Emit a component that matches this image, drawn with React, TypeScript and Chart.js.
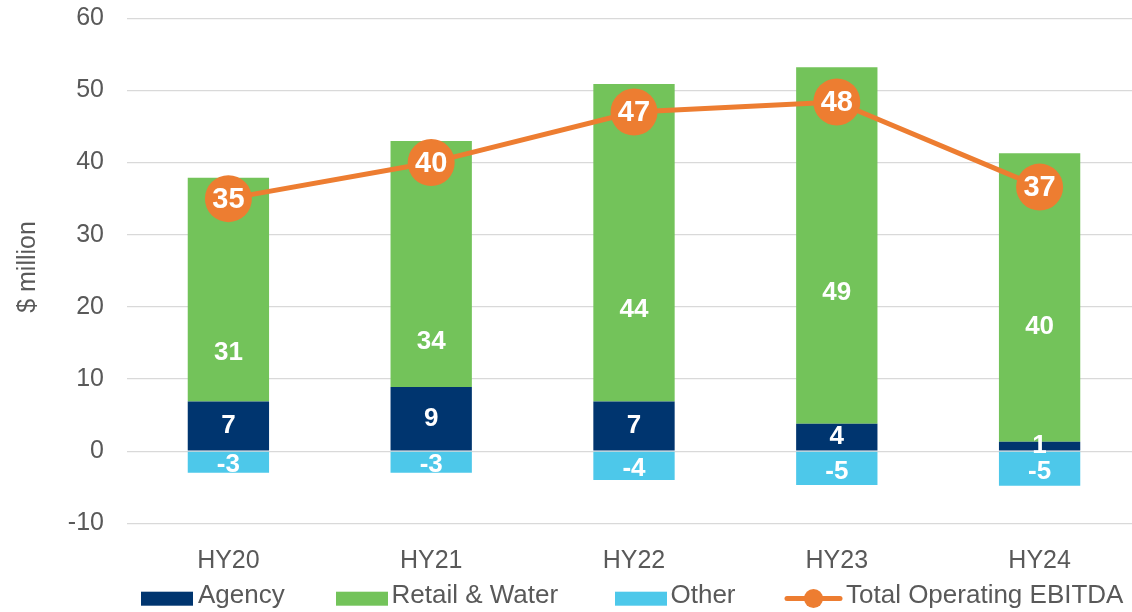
import React, { useEffect, useRef } from "react";
import { Chart, registerables } from "chart.js";

Chart.register(...registerables);

const categories = ["HY20", "HY21", "HY22", "HY23", "HY24"];
const agency = [6.9, 8.9, 6.9, 3.8, 1.3];
const retailWater = [31.0, 34.1, 44.0, 49.4, 40.0];
const other = [-3.0, -3.0, -4.0, -4.7, -4.8];
const totalEbitda = [35.0, 40.0, 47.0, 48.4, 36.6];
const yMin = -10;
const yMax = 60;
const yStep = 10;
const yTitle = "$ million";
const seriesNames = ["Agency", "Retail & Water", "Other", "Total Operating EBITDA"];

const COLORS = {
  agency: "#00356F",
  retail: "#73C35A",
  other: "#4DC8EA",
  total: "#ED7D31",
  text: "#595959",
  grid: "#D9D9D9",
};
const FONT = "'Liberation Sans', Arial, Helvetica, sans-serif";
const CANVAS_W = 1141;
const CANVAS_H = 612;

const labelsPlugin = {
  id: "valueLabels",
  afterDatasetsDraw(chart: any) {
    const ctx = chart.ctx;
    const yScale = chart.scales.y;
    ctx.save();
    ctx.fillStyle = "#FFFFFF";
    ctx.textAlign = "center";
    ctx.textBaseline = "middle";
    ctx.font = `bold 26px ${FONT}`;
    const mA = chart.getDatasetMeta(0);
    mA.data.forEach((el: any, i: number) => {
      const yc = (el.y + el.base) / 2;
      ctx.fillText(String(Math.round(agency[i])), el.x, yc);
    });
    const mR = chart.getDatasetMeta(1);
    mR.data.forEach((el: any, i: number) => {
      const yc = yScale.getPixelForValue((retailWater[i] + other[i]) / 2 - 0.4);
      ctx.fillText(String(Math.round(retailWater[i])), el.x, yc);
    });
    const mO = chart.getDatasetMeta(2);
    mO.data.forEach((el: any, i: number) => {
      const yc = (el.y + el.base) / 2 + 3;
      ctx.fillText(String(Math.round(other[i])), el.x, yc);
    });
    ctx.font = `bold 29px ${FONT}`;
    const mT = chart.getDatasetMeta(3);
    mT.data.forEach((el: any, i: number) => {
      ctx.fillText(String(Math.round(totalEbitda[i])), el.x, el.y + 1);
    });
    ctx.restore();
  },
};

const decorPlugin = {
  id: "decor",
  afterDraw(chart: any) {
    const ctx = chart.ctx;
    ctx.save();
    ctx.fillStyle = COLORS.text;
    ctx.font = `25px ${FONT}`;
    ctx.textAlign = "center";
    ctx.textBaseline = "middle";
    ctx.translate(28.6, 267);
    ctx.rotate(-Math.PI / 2);
    ctx.fillText(yTitle, 0, 0);
    ctx.restore();

    ctx.save();
    const baseY = 603.3;
    const boxes = [
      { x: 141, color: COLORS.agency, tx: 198 },
      { x: 336, color: COLORS.retail, tx: 391.5 },
      { x: 615, color: COLORS.other, tx: 670.5 },
    ];
    boxes.forEach((b, i) => {
      ctx.fillStyle = b.color;
      ctx.fillRect(b.x, 591.7, 52, 14);
      ctx.fillStyle = COLORS.text;
      ctx.font = `26px ${FONT}`;
      ctx.textAlign = "left";
      ctx.textBaseline = "alphabetic";
      ctx.fillText(seriesNames[i], b.tx, baseY);
    });
    ctx.strokeStyle = COLORS.total;
    ctx.lineWidth = 5;
    ctx.lineCap = "round";
    ctx.beginPath();
    ctx.moveTo(787, 598.5);
    ctx.lineTo(840, 598.5);
    ctx.stroke();
    ctx.fillStyle = COLORS.total;
    ctx.beginPath();
    ctx.arc(813.5, 598.5, 9.5, 0, Math.PI * 2);
    ctx.fill();
    ctx.fillStyle = COLORS.text;
    ctx.font = `26px ${FONT}`;
    ctx.textAlign = "left";
    ctx.textBaseline = "alphabetic";
    ctx.fillText(seriesNames[3], 846, baseY);
    ctx.restore();
  },
};

function zeroPadding(s: any) {
  s.paddingTop = 0;
  s.paddingBottom = 0;
  s.paddingLeft = 0;
  s.paddingRight = 0;
}

export default function App() {
  const canvasRef = useRef<HTMLCanvasElement | null>(null);

  useEffect(() => {
    document.body.style.overflow = "hidden";
    const canvas = canvasRef.current;
    if (!canvas) return;
    const chart = new Chart(canvas, {
      data: {
        labels: categories,
        datasets: [
          {
            type: "bar",
            label: seriesNames[0],
            data: agency,
            backgroundColor: COLORS.agency,
            order: 2,
            barPercentage: 1,
            categoryPercentage: 0.401,
          },
          {
            type: "bar",
            label: seriesNames[1],
            data: retailWater,
            backgroundColor: COLORS.retail,
            order: 2,
            barPercentage: 1,
            categoryPercentage: 0.401,
          },
          {
            type: "bar",
            label: seriesNames[2],
            data: other,
            backgroundColor: COLORS.other,
            order: 2,
            barPercentage: 1,
            categoryPercentage: 0.401,
          },
          {
            type: "line",
            label: seriesNames[3],
            data: totalEbitda,
            borderColor: COLORS.total,
            backgroundColor: COLORS.total,
            borderWidth: 5,
            pointRadius: 23.5,
            pointHoverRadius: 23.5,
            pointBorderWidth: 0,
            pointBackgroundColor: COLORS.total,
            tension: 0,
            clip: false,
            order: 0,
          },
        ],
      } as any,
      options: {
        animation: false,
        responsive: false,
        devicePixelRatio: 1,
        events: [],
        layout: { autoPadding: false, padding: { top: 18.3, right: 0, left: 0, bottom: 0 } },
        plugins: {
          legend: { display: false },
          tooltip: { enabled: false },
        },
        scales: {
          x: {
            stacked: true,
            grid: { display: false, drawTicks: false },
            border: { display: false },
            ticks: {
              color: COLORS.text,
              font: { family: FONT, size: 25 },
              padding: 23,
            },
            afterFit: (s: any) => {
              s.height = 88.7;
              zeroPadding(s);
            },
          },
          y: {
            stacked: true,
            min: yMin,
            max: yMax,
            grid: { color: COLORS.grid, lineWidth: 1.3, drawTicks: false },
            border: { display: false },
            ticks: {
              stepSize: yStep,
              color: COLORS.text,
              font: { family: FONT, size: 25 },
              padding: 23,
            },
            afterFit: (s: any) => {
              s.width = 127;
              zeroPadding(s);
            },
          },
        },
      } as any,
      plugins: [labelsPlugin, decorPlugin],
    });
    return () => chart.destroy();
  }, []);

  return (
    <div style={{ position: "fixed", left: 0, top: 0, width: CANVAS_W, height: CANVAS_H, background: "#fff" }}>
      <canvas
        ref={canvasRef}
        width={CANVAS_W}
        height={CANVAS_H}
        style={{ display: "block", width: CANVAS_W, height: CANVAS_H }}
      />
    </div>
  );
}
